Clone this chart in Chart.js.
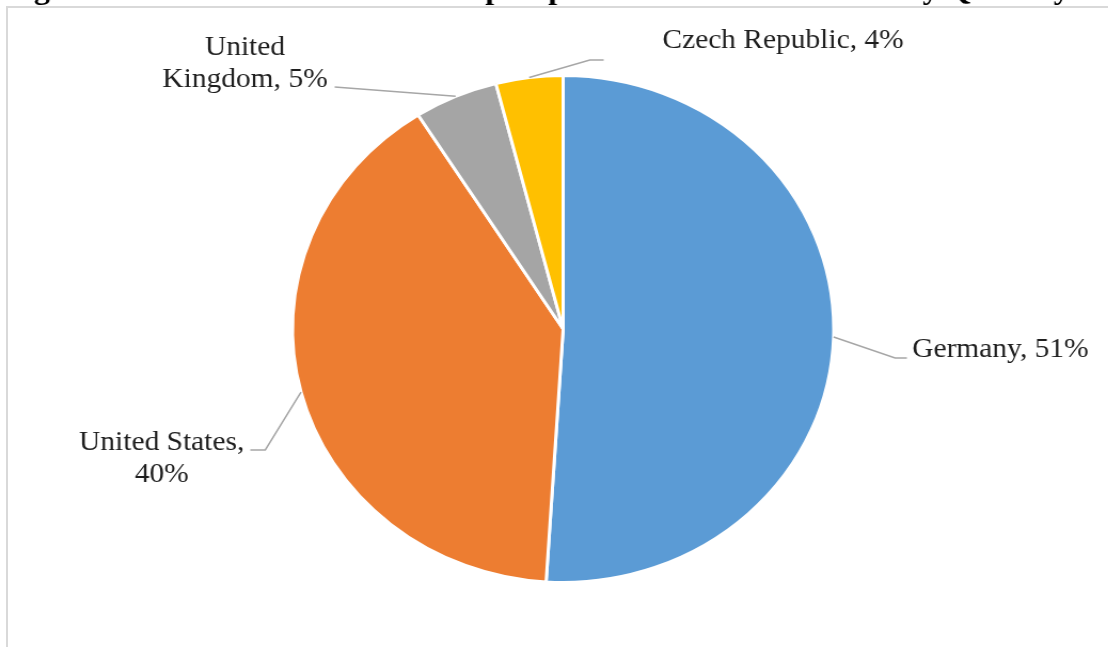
<!DOCTYPE html>
<html>
<head>
<meta charset="utf-8">
<script src="https://cdn.jsdelivr.net/npm/chart.js@4.4.1/dist/chart.umd.min.js"></script>
<style>
html,body{margin:0;padding:0;background:#fff;overflow:hidden;}
#frame{position:absolute;left:6px;top:6px;width:1300px;height:900px;border:2px solid #d9d9d9;}
/* the source picture is stretched sideways a little, so the whole chart is too */
#wrap{position:absolute;left:0;top:0;width:1038px;height:647px;transform:scaleX(1.0675);transform-origin:0 0;}
</style>
</head>
<body>
<div id="frame"></div>
<div id="wrap"><canvas id="c" width="1038" height="647"></canvas></div>
<script>
// ── Data ──────────────────────────────────────────────────────────────────────
const TITLE = 'Figure 12: Market Shares of the Top Exporters to the EU Market by Quantity';
const countries = ['Germany', 'United States', 'United Kingdom', 'Czech Republic'];
const shares = [51, 40, 5, 4];
const sliceColors = ['#5b9bd5', '#ed7d31', '#a5a5a5', '#ffc000'];

// ── Label placement (px from pie centre, like Excel's hand-dragged labels) ──
const LABEL_POS = [
  { elbow: [311, 29],    end: [322, 29],    text: [327, 28],    align: 'left',   wrap: 400 },
  { elbow: [-279, 121],  end: [-293, 121],  text: [-376, 121],  align: 'center', wrap: 160 },
  { elbow: [-214, -242], end: [-214, -242], text: [-298, -274], align: 'center', wrap: 172 },
  { elbow: [25, -269],   end: [38, -269],   text: [206, -281],  align: 'center', wrap: 400 }
];
const FONT = '27.6px "Liberation Serif", "Times New Roman", serif';
const LINE_H = 31.5;

function wrapText(ctx, txt, maxW) {
  const words = txt.split(' '), lines = [];
  let cur = '';
  words.forEach(w => {
    const t = cur ? cur + ' ' + w : w;
    if (cur && ctx.measureText(t).width > maxW) { lines.push(cur); cur = w; }
    else cur = t;
  });
  if (cur) lines.push(cur);
  return lines;
}

// ── Leader lines + data labels ───────────────────────────────────────────────
const leaderLabels = {
  id: 'leaderLabels',
  afterDatasetsDraw(chart) {
    const ctx = chart.ctx, meta = chart.getDatasetMeta(0);
    ctx.save();
    ctx.font = FONT;
    meta.data.forEach((arc, i) => {
      const p = arc.getProps(['x', 'y', 'startAngle', 'endAngle', 'outerRadius'], true);
      const mid = (p.startAngle + p.endAngle) / 2, cfg = LABEL_POS[i];
      const ex = p.x + Math.cos(mid) * p.outerRadius, ey = p.y + Math.sin(mid) * p.outerRadius;
      ctx.strokeStyle = '#a6a6a6'; ctx.lineWidth = 1.5;
      ctx.beginPath();
      ctx.moveTo(ex, ey);
      ctx.lineTo(p.x + cfg.elbow[0], p.y + cfg.elbow[1]);
      ctx.lineTo(p.x + cfg.end[0], p.y + cfg.end[1]);
      ctx.stroke();
      const lines = wrapText(ctx, countries[i] + ', ' + shares[i] + '%', cfg.wrap);
      ctx.fillStyle = '#1e1e1e'; ctx.textAlign = cfg.align; ctx.textBaseline = 'alphabetic';
      lines.forEach((ln, k) => ctx.fillText(ln, p.x + cfg.text[0], p.y + cfg.text[1] + k * LINE_H));
    });
    ctx.restore();
  }
};

// title sits mostly above the crop, only the descenders show
const cutTitle = {
  id: 'cutTitle',
  afterDraw(chart) {
    const ctx = chart.ctx;
    ctx.save();
    ctx.font = 'bold 30px "Liberation Serif", "Times New Roman", serif';
    ctx.fillStyle = '#000'; ctx.textAlign = 'left'; ctx.textBaseline = 'alphabetic';
    ctx.fillText(TITLE, 5, -1);
    ctx.restore();
  }
};

new Chart(document.getElementById('c').getContext('2d'), {
  type: 'pie',
  data: {
    labels: countries,
    datasets: [{ data: shares, backgroundColor: sliceColors, borderColor: '#ffffff', borderWidth: 3 }]
  },
  options: {
    responsive: false,
    animation: false,
    layout: { padding: { top: 74, bottom: 63, left: 17, right: 0 } },
    plugins: { legend: { display: false }, tooltip: { enabled: false } }
  },
  plugins: [leaderLabels, cutTitle]
});
</script>
</body>
</html>
